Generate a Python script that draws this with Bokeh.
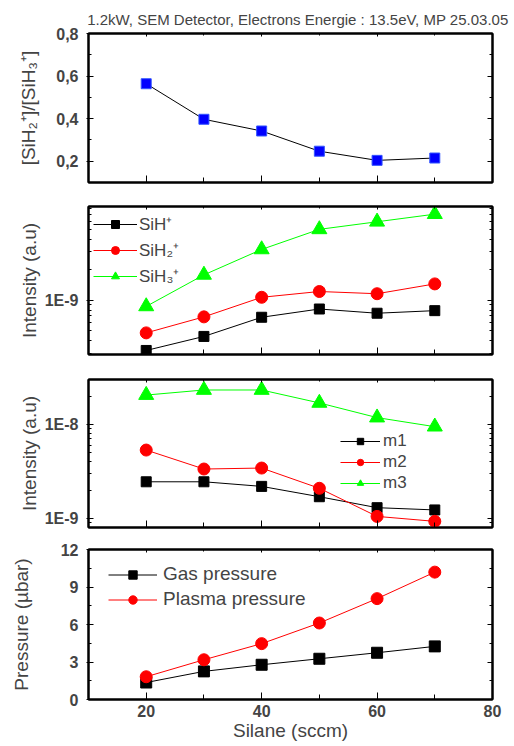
from bokeh.plotting import figure
from bokeh.layouts import column
from bokeh.models import (Range1d, FixedTicker, CustomJSTickFormatter, LinearAxis,
                          LogAxis, Legend, LegendItem)
from bokeh.embed import file_html
from bokeh.resources import INLINE

# ---------------- data ----------------
silane = [20, 30, 40, 50, 60, 70]
ratio = [0.564, 0.397, 0.342, 0.247, 0.204, 0.215]
sih = [3.2e-10, 4.4e-10, 6.8e-10, 8.2e-10, 7.45e-10, 7.9e-10]
sih2 = [4.77e-10, 6.86e-10, 1.07e-9, 1.22e-9, 1.16e-9, 1.45e-9]
sih3 = [8.7e-10, 1.78e-9, 3.17e-9, 5.0e-9, 5.94e-9, 7.06e-9]
m1 = [2.45e-9, 2.45e-9, 2.19e-9, 1.70e-9, 1.30e-9, 1.23e-9]
m2 = [5.33e-9, 3.35e-9, 3.43e-9, 2.09e-9, 1.05e-9, 9.3e-10]
m3 = [2.05e-8, 2.32e-8, 2.32e-8, 1.69e-8, 1.18e-8, 9.45e-9]
gas = [1.36, 2.25, 2.78, 3.26, 3.74, 4.25]
plasma = [1.82, 3.18, 4.47, 6.12, 8.07, 10.19]

x_ticks = [20, 40, 60, 80]
x_minor = [30, 50, 70]
ratio_ticks = [0.2, 0.4, 0.6, 0.8]
ratio_minor = [0.3, 0.5, 0.7]
int2_ticks = [1e-9]
int2_minor = [3e-10, 4e-10, 5e-10, 6e-10, 7e-10, 8e-10, 9e-10,
              2e-9, 3e-9, 4e-9, 5e-9, 6e-9, 7e-9, 8e-9]
int3_ticks = [1e-9, 1e-8]
int3_minor = [9e-10, 2e-9, 3e-9, 4e-9, 5e-9, 6e-9, 7e-9, 8e-9, 9e-9, 2e-8, 3e-8]
p_ticks = [0, 3, 6, 9, 12]
p_minor = [1.5, 4.5, 7.5, 10.5]

title_text = "1.2kW, SEM Detector, Electrons Energie : 13.5eV, MP 25.03.05"

FONT = "Liberation Sans"
BLACK, RED, GREEN, BLUE = "#000000", "#FF0000", "#00FF00", "#0000FF"

EMPTY = CustomJSTickFormatter(code="return ''")


def style_axis(ax, ticks, minor, tin, mtin, tout=0):
    ax.ticker = FixedTicker(ticks=ticks, minor_ticks=minor)
    ax.axis_line_width = 2
    ax.axis_line_color = "black"
    ax.major_tick_in = tin
    ax.major_tick_out = tout
    ax.minor_tick_in = mtin
    ax.minor_tick_out = 0
    ax.major_tick_line_width = 1
    ax.minor_tick_line_width = 1
    ax.major_label_text_font = FONT
    ax.major_label_text_font_style = "bold"
    ax.major_label_text_font_size = "16px"
    ax.axis_label_text_font = FONT
    ax.axis_label_text_font_style = "normal"
    ax.axis_label_text_font_size = "19px"


def make_fig(fh, bt, bb, ytype, yr, yticks, yminor, fmt_code, ylabel,
             lab_standoff, show_x):
    p = figure(frame_width=404, frame_height=fh, output_backend="svg",
               toolbar_location=None, y_axis_type=ytype,
               x_range=Range1d(10, 80), y_range=yr,
               min_border_left=88, min_border_right=22,
               min_border_top=bt, min_border_bottom=bb)
    p.grid.visible = False
    p.outline_line_color = "black"
    p.outline_line_width = 2
    p.background_fill_color = "white"
    p.border_fill_color = "white"

    xa = p.xaxis[0]
    style_axis(xa, x_ticks, x_minor, 7, 5)
    if show_x:
        xa.formatter = CustomJSTickFormatter(code="return tick.toFixed(0)")
        xa.axis_label = "Silane (sccm)"
        xa.major_label_standoff = 5
        xa.axis_label_standoff = 0
    else:
        xa.formatter = EMPTY
        xa.major_label_standoff = 0

    ya = p.yaxis[0]
    style_axis(ya, yticks, yminor, 5, 3, tout=2)
    ya.formatter = CustomJSTickFormatter(code=fmt_code)
    ya.axis_label = ylabel
    ya.major_label_standoff = 8
    ya.axis_label_standoff = lab_standoff

    RAx = LogAxis if ytype == "log" else LinearAxis
    ra = RAx()
    style_axis(ra, yticks, yminor, 5, 3)
    ra.formatter = EMPTY
    ra.major_label_standoff = 0
    p.add_layout(ra, "right")

    ta = LinearAxis()
    style_axis(ta, x_ticks, x_minor, 3, 2)
    ta.formatter = EMPTY
    ta.major_label_standoff = 0
    p.add_layout(ta, "above")
    return p


def series(p, y, color, marker, size, line_color=None):
    lr = p.line(silane, y, line_color=line_color or color, line_width=1)
    sr = p.scatter(silane, y, marker=marker, size=size, fill_color=color,
                   line_color=color)
    return [lr, sr]


def add_legend(p, items, loc, font_size, gw, gh, spacing, standoff):
    lg = Legend(items=[LegendItem(label=l, renderers=r) for l, r in items],
                location=loc, padding=0, margin=0, spacing=spacing,
                glyph_width=gw, glyph_height=gh, label_standoff=standoff,
                label_height=gh,
                label_text_font=FONT, label_text_font_size=font_size,
                border_line_alpha=0, background_fill_alpha=0)
    p.add_layout(lg)


# ---- panel 1: ratio ----
p1 = make_fig(149, 33, 12, "linear", Range1d(0.1, 0.8), ratio_ticks, ratio_minor,
              "return tick.toFixed(1).replace('.', ',')",
              "[SiH\u2082\u207a]/[SiH\u2083\u207a]", 14, False)
p1.line(silane, ratio, line_color="black", line_width=1)
p1.scatter(silane, ratio, marker="square", size=10, fill_color=BLUE,
           line_color="#3355FF")
p1.title.text = title_text
p1.title.align = "right"
p1.title.offset = -16
p1.title.text_font = FONT
p1.title.text_font_style = "normal"
p1.title.text_font_size = "15px"
p1.title.standoff = 12

# ---- panel 2: SiH ions ----
p2 = make_fig(148, 12, 12, "log", Range1d(2.92e-10, 8.4e-9), int2_ticks, int2_minor,
              "return tick.toExponential(0).toUpperCase()",
              "Intensity (a.u)", 2, False)
r_a = series(p2, sih, BLACK, "square", 10)
r_b = series(p2, sih2, RED, "circle", 12)
r_c = series(p2, sih3, GREEN, "triangle", 15)
add_legend(p2, [("SiH\u207a", r_a), ("SiH\u2082\u207a", r_b), ("SiH\u2083\u207a", r_c)],
           (5, 67), "17px", 44, 20, 3, 2)

# ---- panel 3: m1..m3 ----
p3 = make_fig(148, 13, 11, "log", Range1d(8.0e-10, 3.0e-8), int3_ticks, int3_minor,
              "return tick.toExponential(0).toUpperCase()",
              "Intensity (a.u)", 2, False)
r_1 = series(p3, m1, BLACK, "square", 10)
r_2 = series(p3, m2, RED, "circle", 12)
r_3 = series(p3, m3, GREEN, "triangle", 15)
add_legend(p3, [("m1", r_1), ("m2", r_2), ("m3", r_3)],
           (252, 34), "17px", 40, 16, 1, 3)

# ---- panel 4: pressure ----
p4 = make_fig(150, 11, 39, "linear", Range1d(0, 12), p_ticks, p_minor,
              "return tick.toFixed(0)",
              "Pressure (\u00b5bar)", 26, True)
r_g = series(p4, gas, BLACK, "square", 11)
r_p = series(p4, plasma, RED, "circle", 12)
add_legend(p4, [("Gas pressure", r_g), ("Plasma pressure", r_p)],
           (20, 89), "19px", 49, 21, 3, 6)

layout = column(p1, p2, p3, p4, spacing=0)

open("out.html", "w").write(file_html(layout, INLINE))
